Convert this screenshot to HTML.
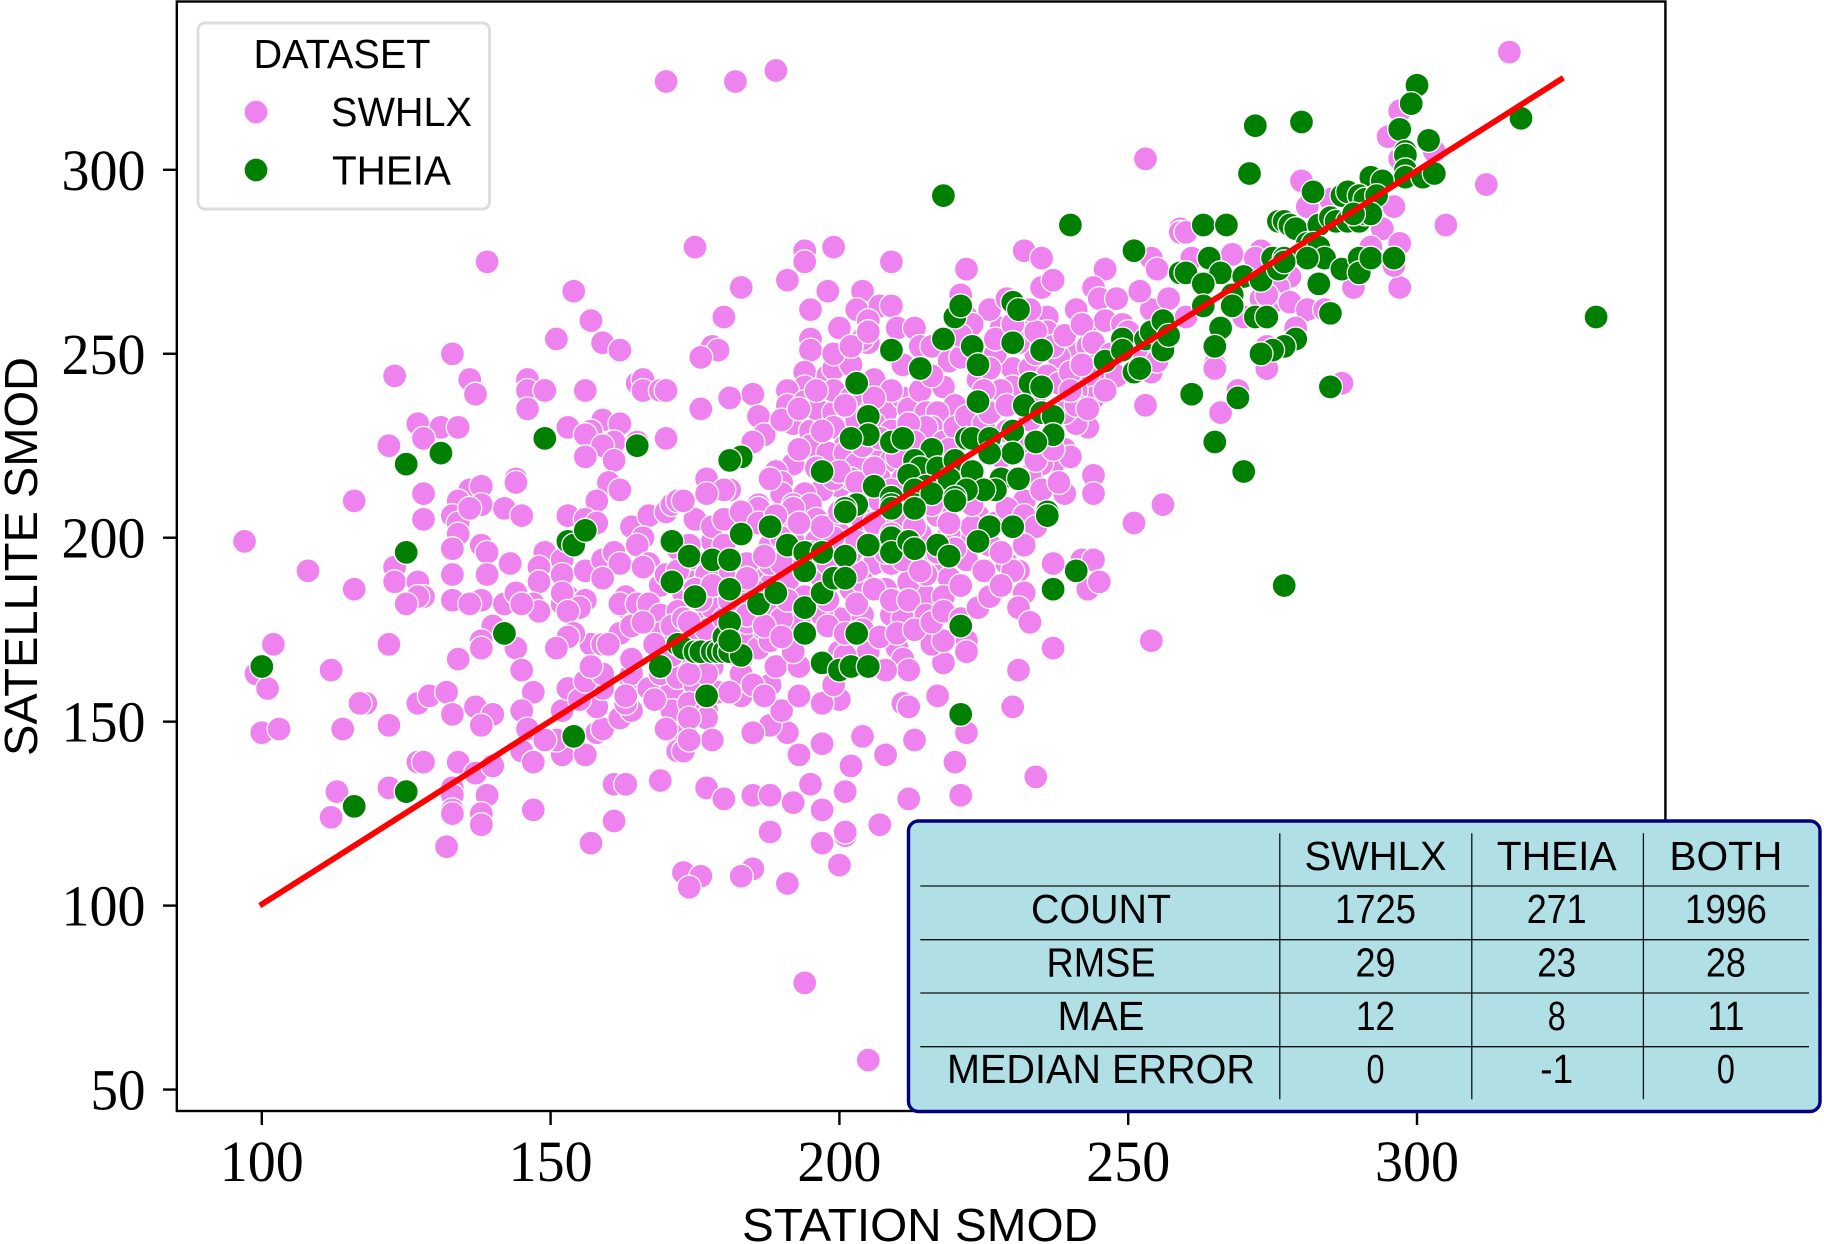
<!DOCTYPE html>
<html lang="en">
<head>
<meta charset="utf-8">
<title>Satellite vs Station SMOD</title>
<style>
html,body{margin:0;padding:0;background:#fff;}
body{width:1824px;height:1244px;overflow:hidden;}
svg{display:block;}
.sans{font-family:"Liberation Sans",sans-serif;fill:#000;}
.serif{font-family:"Liberation Serif",serif;fill:#000;}
</style>
</head>
<body>
<svg id="chart" xmlns="http://www.w3.org/2000/svg" width="1824" height="1244" viewBox="0 0 1824 1244">
  <rect x="0" y="0" width="1824" height="1244" fill="#ffffff"/>
  <g id="swhlx-layer"></g>
  <g id="theia-layer"></g>
  <g id="line-layer"></g>
  <rect x="176.8" y="1.5" width="1488.6" height="1109.5" fill="none" stroke="#000" stroke-width="2.4"/>
  <g id="tick-layer"></g>
  <text class="sans" x="920" y="1241" font-size="46" text-anchor="middle" textLength="356" lengthAdjust="spacingAndGlyphs">STATION SMOD</text>
  <text class="sans" transform="translate(37,556.5) rotate(-90)" font-size="46" text-anchor="middle" textLength="399" lengthAdjust="spacingAndGlyphs">SATELLITE SMOD</text>

  <g>
    <rect x="198" y="23" width="291.500" height="186" rx="7" ry="7" fill="#ffffff" fill-opacity="0.8" stroke="#dddddd" stroke-width="3"/>
    <text class="sans" x="342" y="68" font-size="41" text-anchor="middle" textLength="177" lengthAdjust="spacingAndGlyphs">DATASET</text>
    <circle cx="256" cy="112" r="12" fill="#ee82ee" stroke="#fff" stroke-width="1.300"/>
    <text class="sans" x="331" y="126" font-size="41" textLength="141" lengthAdjust="spacingAndGlyphs">SWHLX</text>
    <circle cx="256" cy="170" r="12" fill="#008000" stroke="#fff" stroke-width="1.300"/>
    <text class="sans" x="332" y="184.500" font-size="41" textLength="119" lengthAdjust="spacingAndGlyphs">THEIA</text>
  </g>

  <g>
    <rect x="908.500" y="821" width="911.500" height="290.500" rx="10" ry="10" fill="#b0e0e6" stroke="#000080" stroke-width="3.400"/>
    <g stroke="#111" stroke-width="1.300">
      <line x1="920.300" y1="886" x2="1809" y2="886"/>
      <line x1="920.300" y1="939.700" x2="1809" y2="939.700"/>
      <line x1="920.300" y1="993" x2="1809" y2="993"/>
      <line x1="920.300" y1="1046.700" x2="1809" y2="1046.700"/>
      <line x1="1279.800" y1="833.300" x2="1279.800" y2="1099.300"/>
      <line x1="1471.800" y1="833.300" x2="1471.800" y2="1099.300"/>
      <line x1="1643.400" y1="833.300" x2="1643.400" y2="1099.300"/>
    </g>
    <g class="sans" font-size="41" text-anchor="middle">
      <text x="1375.500" y="870" textLength="142" lengthAdjust="spacingAndGlyphs">SWHLX</text>
      <text x="1556.700" y="870" textLength="120" lengthAdjust="spacingAndGlyphs">THEIA</text>
      <text x="1725.900" y="870" textLength="113" lengthAdjust="spacingAndGlyphs">BOTH</text>
      <text x="1101" y="923" textLength="140" lengthAdjust="spacingAndGlyphs">COUNT</text>
      <text x="1375.500" y="923" textLength="81" lengthAdjust="spacingAndGlyphs">1725</text>
      <text x="1556.700" y="923" textLength="60" lengthAdjust="spacingAndGlyphs">271</text>
      <text x="1725.900" y="923" textLength="82" lengthAdjust="spacingAndGlyphs">1996</text>
      <text x="1101" y="976.700" textLength="109" lengthAdjust="spacingAndGlyphs">RMSE</text>
      <text x="1375.500" y="976.700" textLength="40" lengthAdjust="spacingAndGlyphs">29</text>
      <text x="1556.700" y="976.700" textLength="39" lengthAdjust="spacingAndGlyphs">23</text>
      <text x="1725.900" y="976.700" textLength="40" lengthAdjust="spacingAndGlyphs">28</text>
      <text x="1101" y="1030" textLength="87" lengthAdjust="spacingAndGlyphs">MAE</text>
      <text x="1375.500" y="1030" textLength="39" lengthAdjust="spacingAndGlyphs">12</text>
      <text x="1556.700" y="1030" textLength="18" lengthAdjust="spacingAndGlyphs">8</text>
      <text x="1725.900" y="1030" textLength="37" lengthAdjust="spacingAndGlyphs">11</text>
      <text x="1101" y="1083" textLength="308" lengthAdjust="spacingAndGlyphs">MEDIAN ERROR</text>
      <text x="1375.500" y="1083" textLength="18" lengthAdjust="spacingAndGlyphs">0</text>
      <text x="1556.700" y="1083" textLength="33" lengthAdjust="spacingAndGlyphs">-1</text>
      <text x="1725.900" y="1083" textLength="18" lengthAdjust="spacingAndGlyphs">0</text>
    </g>
  </g>
</svg>
<script>
const xTickValues = [100, 150, 200, 250, 300];
const yTickValues = [50, 100, 150, 200, 250, 300];
const lineStation = [100, 325];
const lineSatellite = [100, 325];

const swhlxStation = [
139,154,157,151,159,162,133,123,136,137,
146,146,149,156,146,165,166,166,169,170,
159,162,153,157,156,161,159,156,161,165,
170,127,131,134,128,122,116,128,128,136,
138,134,138,133,134,134,136,144,144,142,
145,138,160,162,158,153,156,158,164,167,
170,171,172,166,97,
123,123,127,128,127,125,108,116,133,139,
143,133,139,133,138,136,142,144,149,148,
152,148,152,156,159,161,162,159,165,167,
166,147,148,145,152,153,152,156,155,153,
163,163,162,165,167,169,167,169,169,162,
164,166,157,159,160,154,153,151,140,138,
138,144,134,145,102,122,99,101,112,118,
117,122,114,100,103,127,129,132,137,140,
133,138,147,145,146,145,147,152,153,152,
156,151,149,158,159,162,164,163,158,155,
159,156,159,157,164,164,164,163,167,171,
172,172,161,163,169,161,157,127,128,134,
137,140,133,133,139,133,133,138,138,132,
147,113,112,122,173,176,174,172,175,170,
173,176,178,172,175,178,171,174,177,170,
173,176,169,172,175,178,171,174,177,170,
168,180,182,181,184,183,186,187,186,188,
185,
175,194,194,199,209,222,232,235,246,254,
255,259,183,191,198,180,195,204,203,207,
209,200,178,179,176,195,195,205,205,204,
210,213,194,194,191,198,199,202,206,191,
194,185,181,176,186,192,195,187,185,195,
196,199,199,201,208,204,211,212,214,215,
218,220,217,216,215,211,214,216,219,224,
221,222,228,230,227,227,236,241,235,237,
243,236,241,238,243,244,245,248,246,249,
252,254,257,245,242,243,244,241,248,254,
253,243,241,239,239,237,235,239,244,244,
256,232,233,230,241,177,181,180,177,173,
186,192,189,190,190,188,198,200,197,194,
192,195,198,201,203,207,209,207,202,211,
199,202,206,209,212,218,220,222,225,228,
233,236,238,240,242,234,231,226,221,216,
209,206,203,201,197,193,196,199,204,208,
212,218,221,224,227,229,232,235,238,240,
236,233,229,226,
237,242,244,243,245,251,234,232,229,231,
230,232,231,233,237,254,231,230,222,222,
218,216,218,210,211,212,217,211,212,208,
205,200,201,200,197,199,222,213,204,197,
193,208,202,220,234,191,188,185,190,193,
188,189,193,192,188,177,178,173,174,174,
177,180,185,188,195,201,192,197,212,221,
188,201,197,207,183,179,177,183,185,181,
187,174,208,209,213,215,211,204,200,197,
203,202,206,209,213,216,219,222,226,221,
223,193,192,188,186,192,188,178,180,180,
174,184,190,175,176,184,173,184,188,190,
196,196,192,200,204,203,198,180,177,184,
194,205,191,185,183,200,201,191,194,197,
200,203,206,209,212,215,218,221,225,228,
194,191,198,201,205,210,214,217,219,
316,253,297,295,297,303,312,305,280,281,
296,294,292,297,285,259,260,261,268,273,
272,289,297,296,252,260,278,276,273,275,
278,281,284,270,265,274,274,279,274,170,
182,189,287,266,265,269,
200,203,206,209,212,215,218,201,204,207,
210,213,216,219,199,202,205,208,211,214,
217,220,223,197,200,203,206,209,212,215,
198,201,204,207,210,213,216,218,221,224,
226,228,183,186,189,192,195,187,190,193,
172,175,178,181,184,187,190,168,171,174,
226,229,232,234,237,239,242,244,247,250,
252,255,223,227,230,233,221,225,229,234,
240,243,246,204,207,210,213,216,219,222,
228,231,234,237,190,193,196,199,202,205
];
const swhlxSatellite = [
275,267,259,254,253,251,250,244,243,239,
243,240,240,240,235,242,243,240,240,240,
232,231,230,229,228,226,225,222,221,226,
227,231,230,230,227,225,210,212,205,213,
214,210,209,206,204,201,208,216,215,208,
206,198,215,213,210,206,205,204,203,206,
207,209,210,200,199,
192,188,188,184,184,182,191,186,197,196,
193,190,190,183,183,182,182,185,196,192,
194,188,190,191,194,196,193,189,198,193,
192,182,180,182,182,184,185,183,181,180,
184,181,182,182,179,187,182,179,174,174,
176,177,171,171,171,174,173,170,176,172,
170,170,167,164,171,171,163,159,164,155,
155,149,148,147,148,155,157,158,154,152,
152,149,158,153,148,142,139,153,159,141,
141,145,145,147,148,151,153,155,154,156,
159,161,163,165,161,163,167,157,159,159,
146,142,133,133,134,123,117,139,139,139,
136,138,132,130,130,126,125,125,122,116,
126,131,124,132,109,108,105,197,205,190,
185,193,199,180,178,181,176,172,175,170,
167,168,163,162,160,165,153,155,153,148,
156,178,183,172,172,167,170,175,190,187,
186,
279,278,275,279,275,273,278,276,273,276,
273,284,268,270,267,260,262,267,262,263,
263,257,252,251,249,254,251,259,253,254,
257,257,245,241,240,244,246,247,243,236,
237,239,238,235,233,231,229,228,226,225,
235,234,230,225,234,236,238,235,240,234,
241,236,234,230,230,247,252,252,248,243,
266,260,257,246,236,250,260,262,268,270,
257,256,250,249,252,268,265,265,259,258,
267,262,265,245,243,244,238,240,244,245,
236,230,231,234,224,220,220,212,217,212,
209,210,217,241,236,216,213,213,212,210,
209,220,218,215,212,216,221,214,213,212,
209,209,223,223,220,221,221,216,216,216,
240,238,231,229,231,226,230,233,231,240,
246,244,242,245,247,250,253,246,249,244,
240,238,232,236,229,224,219,216,213,211,
207,208,212,206,204,208,206,213,215,222,
226,232,229,234,
193,194,194,186,188,204,203,198,193,191,
191,185,181,177,170,172,164,154,172,169,
166,171,172,170,167,164,157,155,154,164,
169,169,168,156,155,160,147,145,146,144,
141,141,138,139,135,147,149,147,153,157,
160,165,165,169,172,151,145,142,151,145,
132,129,130,130,133,131,128,126,129,130,
120,119,117,122,157,158,163,163,160,158,
157,163,186,179,181,184,178,179,178,179,
185,186,193,193,193,192,189,194,198,200,
203,177,178,193,208,203,198,203,205,198,
198,193,193,188,183,182,178,177,180,178,
199,205,208,201,188,182,183,190,190,189,
79,58,106,110,108,111,120,188,193,189,
193,191,186,183,188,190,184,187,191,196,
184,183,193,199,204,202,201,206,201,
332,303,316,309,303,305,296,285,297,290,
290,284,279,280,292,283,283,276,277,278,
276,268,268,274,267,260,271,268,265,264,
264,262,262,260,247,252,246,257,266,324,
324,327,242,234,246,240,
218,215,219,213,217,211,215,208,205,210,
205,203,209,204,200,196,199,196,194,191,
196,197,209,203,207,199,204,201,183,179,
176,174,175,173,174,175,177,180,178,181,
184,187,207,204,206,199,196,195,200,204,
191,186,187,183,179,176,173,171,168,177,
262,265,260,256,252,255,258,253,250,256,
250,248,258,254,258,262,255,240,236,239,
240,235,240,225,227,222,226,220,224,218,
222,225,221,224,232,235,240,250,252,256
];

const theiaStation = [
100,116,125,125,125,131,149,165,142,154,
153,154,156,171,171,174,175,178,181,181,
183,188,186,189,191,194,194,194,194,197,
197,197,200,202,205,203,169,177,172,173,
175,176,178,179,180,180,181,181,183,181,
197,203,205,205,202,209,211,209,218,214,
220,221,223,224,224,230,231,230,235,233,
235,232,235,237,216,213,214,217,212,220,
222,223,226,230,237,234,230,226,223,219,
215,206,213,228,231,227,225,222,209,213,
203,201,209,216,220,236,201,209,213,220,
236,226,230,224,217,219,209,205,209,212,
213,201,199,201,221,221,241,237,218,240,
251,246,249,249,251,252,253,254,256,256,
257,259,183,181,
300,299,297,302,298,298,298,298,301,303,
292,294,318,331,272,280,271,282,287,288,
290,291,293,276,277,278,279,283,285,286,
288,290,291,292,289,263,267,264,260,266,
263,270,273,275,277,276,281,282,280,283,
284,281,277,287,290,290,292,296,283,285,
272,274,268,268,263,266,265,279,277,275,
273,269,265,270,261,285,277
];
const theiaSatellite = [
165,127,131,196,220,223,227,225,174,146,
199,198,202,199,188,195,184,194,194,186,
201,203,182,185,198,196,191,181,174,196,
185,166,164,165,165,174,165,157,171,170,
169,169,169,169,173,169,169,177,168,172,
218,242,233,228,227,226,227,251,254,246,
260,263,252,247,237,264,262,253,251,242,
241,236,234,233,224,221,219,219,217,221,
227,227,227,229,228,226,223,223,218,216,
214,214,213,216,216,213,213,213,211,209,
209,208,209,212,211,207,207,208,208,210,
206,203,203,199,198,195,200,198,196,199,
197,195,189,189,176,152,191,186,293,285,
278,248,254,251,245,246,254,256,259,251,
255,272,222,221,
323,318,311,308,305,304,300,298,298,299,
298,297,314,260,312,313,299,294,293,294,
293,292,293,286,286,285,284,285,287,286,
286,286,288,288,288,285,285,276,272,272,
269,271,270,276,276,273,280,280,277,279,
276,276,275,273,276,272,276,276,269,261,
260,260,266,263,263,257,252,254,252,251,
250,238,226,218,239,241,187
];

const SVG_NS = 'http://www.w3.org/2000/svg';
function xScale(v) { return 261.8 + (v - 100) * 5.776; }
function yScale(v) { return 169.8 + (300 - v) * 3.679; }

function drawSeries(layerId, xs, ys, colour, markName) {
  const layer = document.getElementById(layerId);
  const n = Math.min(xs.length, ys.length);
  for (let i = 0; i < n; i++) {
    const c = document.createElementNS(SVG_NS, 'circle');
    c.setAttribute('cx', xScale(xs[i]).toFixed(1));
    c.setAttribute('cy', yScale(ys[i]).toFixed(1));
    c.setAttribute('r', '12');
    c.setAttribute('fill', colour);
    c.setAttribute('stroke', '#ffffff');
    c.setAttribute('stroke-width', '1.3');
    
    
    layer.appendChild(c);
  }
}
drawSeries('swhlx-layer', swhlxStation, swhlxSatellite, '#ee82ee', 'swhlx-point');
drawSeries('theia-layer', theiaStation, theiaSatellite, '#008000', 'theia-point');

const lineLayer = document.getElementById('line-layer');
const idLine = document.createElementNS(SVG_NS, 'line');
idLine.setAttribute('x1', xScale(lineStation[0]) - 2);
idLine.setAttribute('y1', yScale(lineSatellite[0]));
idLine.setAttribute('x2', xScale(lineStation[1]) + 2);
idLine.setAttribute('y2', yScale(lineSatellite[1]));
idLine.setAttribute('stroke', '#ff0000');
idLine.setAttribute('stroke-width', '5.8');


lineLayer.appendChild(idLine);

const tickLayer = document.getElementById('tick-layer');
xTickValues.forEach(function (v) {
  const t = document.createElementNS(SVG_NS, 'line');
  t.setAttribute('x1', xScale(v));
  t.setAttribute('x2', xScale(v));
  t.setAttribute('y1', 1111);
  t.setAttribute('y2', 1125);
  t.setAttribute('stroke', '#000');
  t.setAttribute('stroke-width', '2.4');
  
  
  tickLayer.appendChild(t);
  const l = document.createElementNS(SVG_NS, 'text');
  l.setAttribute('x', xScale(v));
  l.setAttribute('y', 1181);
  l.setAttribute('text-anchor', 'middle');
  l.setAttribute('class', 'serif');
  l.setAttribute('font-size', '58');
  l.setAttribute('textLength', '84');
  l.setAttribute('lengthAdjust', 'spacingAndGlyphs');
  
  
  l.textContent = String(v);
  tickLayer.appendChild(l);
});
yTickValues.forEach(function (v) {
  const t = document.createElementNS(SVG_NS, 'line');
  t.setAttribute('x1', 163);
  t.setAttribute('x2', 176.8);
  t.setAttribute('y1', yScale(v));
  t.setAttribute('y2', yScale(v));
  t.setAttribute('stroke', '#000');
  t.setAttribute('stroke-width', '2.4');
  
  
  tickLayer.appendChild(t);
  const l = document.createElementNS(SVG_NS, 'text');
  l.setAttribute('x', 145.5);
  l.setAttribute('y', yScale(v) + 20);
  l.setAttribute('text-anchor', 'end');
  l.setAttribute('class', 'serif');
  l.setAttribute('font-size', '58');
  l.setAttribute('textLength', String(v).length === 3 ? '84' : '55');
  l.setAttribute('lengthAdjust', 'spacingAndGlyphs');
  
  
  l.textContent = String(v);
  tickLayer.appendChild(l);
});
</script>
</body>
</html>
